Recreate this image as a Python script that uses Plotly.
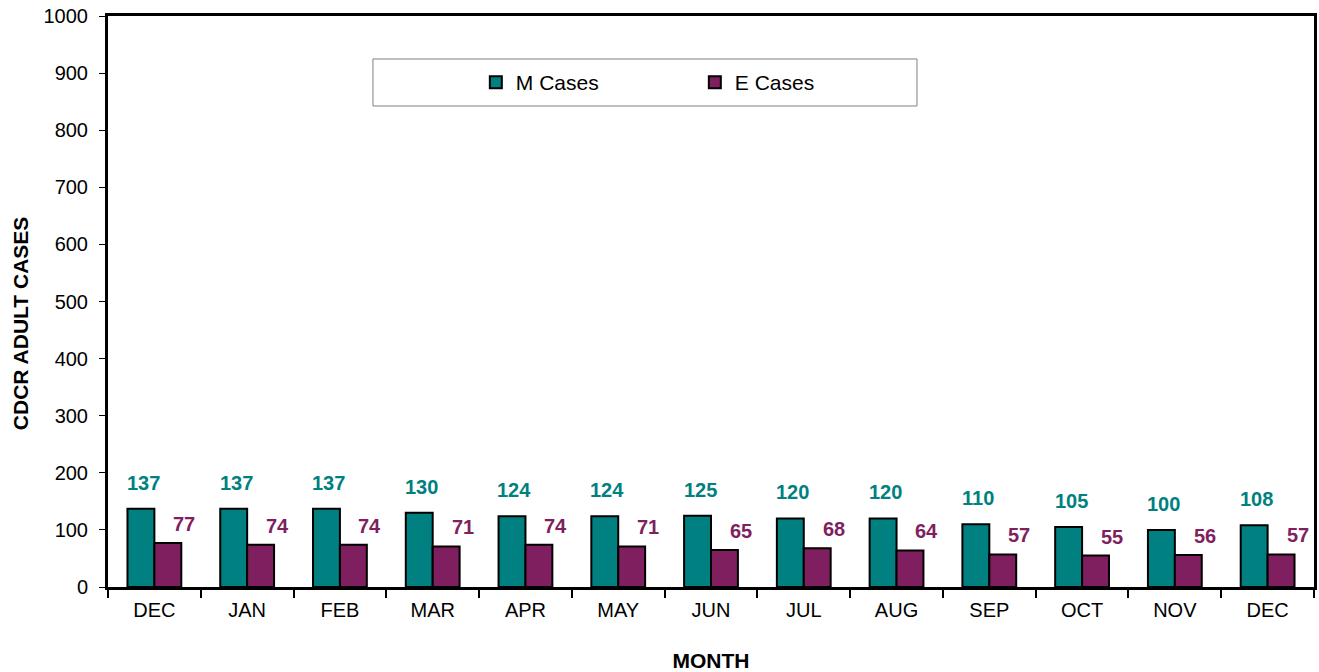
import plotly.graph_objects as go

months = ["DEC", "JAN", "FEB", "MAR", "APR", "MAY", "JUN", "JUL", "AUG", "SEP", "OCT", "NOV", "DEC"]
m_cases = [137, 137, 137, 130, 124, 124, 125, 120, 120, 110, 105, 100, 108]
e_cases = [77, 74, 74, 71, 74, 71, 65, 68, 64, 57, 55, 56, 57]
y_ticks = list(range(0, 1001, 100))

TEAL = "#008080"
PLUM = "#7F1F5F"
FONT = "Arial, Liberation Sans, sans-serif"

xs = list(range(len(months)))

fig = go.Figure()
fig.add_trace(go.Bar(x=xs, y=m_cases, name="M Cases", marker=dict(color=TEAL, line=dict(color="black", width=2))))
fig.add_trace(go.Bar(x=xs, y=e_cases, name="E Cases", marker=dict(color=PLUM, line=dict(color="black", width=2))))

for i in xs:
    fig.add_annotation(x=i, y=m_cases[i], text=f"<b>{m_cases[i]}</b>", showarrow=False,
                       xshift=-11, yshift=26, yanchor="middle",
                       font=dict(family=FONT, size=20, color=TEAL))
    fig.add_annotation(x=i, y=e_cases[i], text=f"<b>{e_cases[i]}</b>", showarrow=False,
                       xshift=30, yshift=19, yanchor="middle",
                       font=dict(family=FONT, size=20, color=PLUM))

# y-axis title (placed like the original, slightly below centre)
fig.add_annotation(xref="paper", yref="paper", x=-0.073, y=0.462, text="<b>CDCR ADULT CASES</b>",
                   textangle=-90, showarrow=False, xanchor="center", yanchor="middle",
                   font=dict(family=FONT, size=21, color="black"))

# legend box
fig.add_shape(type="rect", xref="paper", yref="paper", x0=0.2197, x1=0.6708, y0=0.8424, y1=0.9247,
              line=dict(color="#808080", width=1), fillcolor="white", layer="below")

fig.update_layout(
    width=1319, height=672,
    margin=dict(l=108, r=5, t=16, b=85),
    paper_bgcolor="white", plot_bgcolor="white",
    barmode="group", bargap=0.42, bargroupgap=0,
    font=dict(family=FONT, size=20, color="black"),
    showlegend=True,
    legend=dict(orientation="h", x=0.305, y=0.8835, xanchor="left", yanchor="middle",
                bgcolor="rgba(0,0,0,0)", borderwidth=0,
                font=dict(family=FONT, size=21, color="black"),
                entrywidth=174, entrywidthmode="pixels"),
    xaxis=dict(range=[-0.5, 12.5], tickvals=xs, ticktext=months, ticks="",
               ticklabelstandoff=3,
               showline=True, linecolor="black", linewidth=3, mirror=True,
               showgrid=False, zeroline=False, automargin=False,
               minor=dict(tick0=0.5, dtick=1, ticks="outside", ticklen=8, tickwidth=2, tickcolor="black", showgrid=False),
               title=dict(text="<b>MONTH</b>", font=dict(family=FONT, size=21), standoff=34),
               tickfont=dict(family=FONT, size=20)),
    yaxis=dict(range=[0, 1000], tickvals=y_ticks, ticks="outside", ticklen=6, tickwidth=1, tickcolor="black",
               ticklabelstandoff=7,
               showline=True, linecolor="black", linewidth=3, mirror=True,
               showgrid=False, zeroline=False, automargin=False,
               tickfont=dict(family=FONT, size=20)),
)

fig.write_html("out.html", config={"displayModeBar": False},
               post_script="document.body.style.margin='0';")
